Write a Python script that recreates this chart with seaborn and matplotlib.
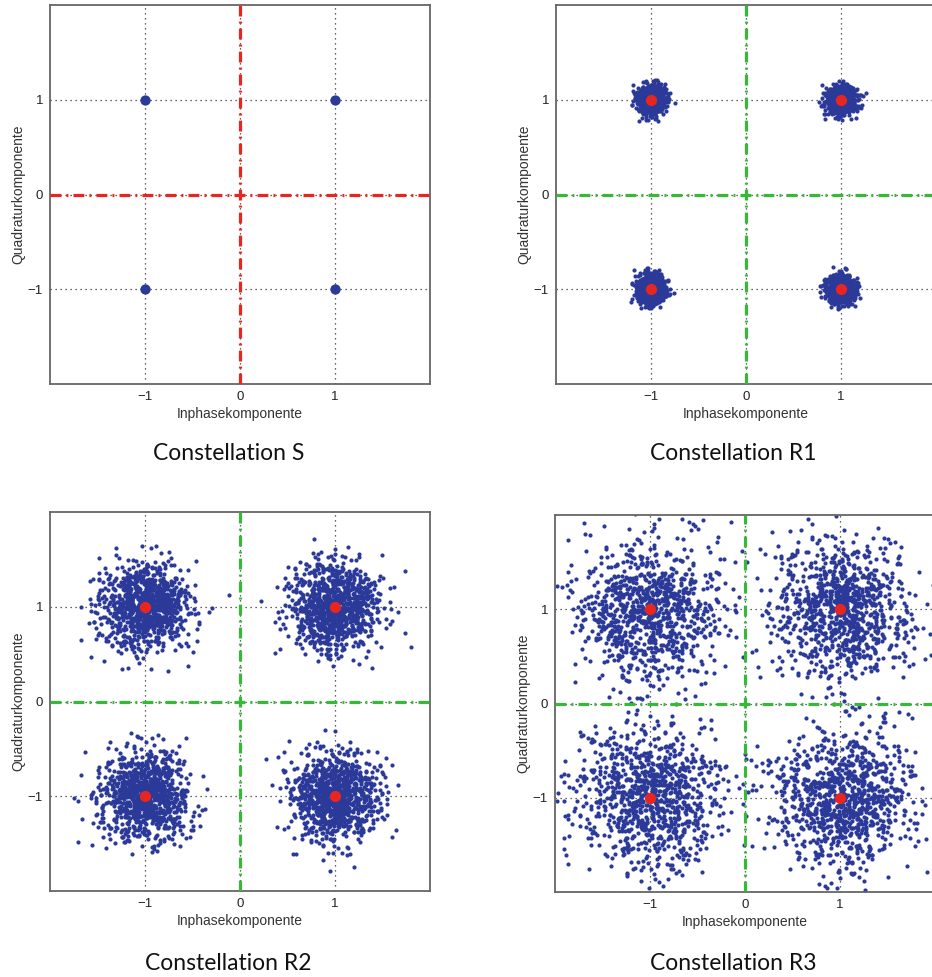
import numpy as np
import pandas as pd
import matplotlib
matplotlib.use("Agg")
import matplotlib.pyplot as plt
import seaborn as sns

# ---- data ----
panel_names = ["S", "R1", "R2", "R3"]
titles = ["Constellation S", "Constellation R1", "Constellation R2", "Constellation R3"]
sym_i = [-1, 1, -1, 1]          # ideal symbols (inphase)
sym_q = [1, 1, -1, -1]          # ideal symbols (quadrature)
noise_std = [0.0, 0.07, 0.23, 0.37]   # estimated spread of the received clouds
points_per_symbol = [0, 1000, 1000, 1000]
axis_line_colors = ["#e8261f", "#36b936", "#36b936", "#36b936"]
tick_values = [-1, 0, 1]
tick_labels = ["\u22121", "0", "1"]
xlabel = "Inphasekomponente"
ylabel = "Quadraturkomponente"

BLUE = "#2b3a98"
RED = "#e8261f"

sns.set_theme(style="white")
plt.rcParams["font.family"] = ["Liberation Sans", "DejaVu Sans"]

W, H = 932, 977
fig = plt.figure(figsize=(W / 100, H / 100), dpi=100)

# axes boxes in pixels: left, top, right, bottom
boxes = [(50, 5, 430, 384), (556, 5, 936, 384), (50, 512, 430, 891), (555, 515, 935, 892)]
title_pos = [(229, 453), (733, 453), (228, 963), (733, 963)]

rng = np.random.default_rng(11)
dashdot = (0, (3.4, 1.6, 0.6, 1.6))

for k, name in enumerate(panel_names):
    l, t, r, b = boxes[k]
    ax = fig.add_axes([l / W, 1 - b / H, (r - l) / W, (b - t) / H])
    ax.set_xlim(-2, 2)
    ax.set_ylim(-2, 2)
    ax.set_xticks(tick_values)
    ax.set_xticklabels(tick_labels)
    ax.set_yticks(tick_values)
    ax.set_yticklabels(tick_labels)
    ax.grid(True, linestyle=(0, (1, 3)), color="#333333", linewidth=0.9)
    ax.set_axisbelow(True)

    sym_df = pd.DataFrame({"I": sym_i, "Q": sym_q})
    if noise_std[k] > 0:
        n = points_per_symbol[k]
        rows = []
        for si, sq in zip(sym_i, sym_q):
            rows.append(pd.DataFrame({
                "I": si + noise_std[k] * rng.standard_normal(n),
                "Q": sq + noise_std[k] * rng.standard_normal(n),
            }))
        cloud = pd.concat(rows, ignore_index=True)
        sns.scatterplot(data=cloud, x="I", y="Q", ax=ax, color=BLUE, s=9,
                        linewidth=0, legend=False, zorder=2)

    ax.axhline(0, color=axis_line_colors[k], linewidth=2.3, linestyle=dashdot, zorder=3)
    ax.axvline(0, color=axis_line_colors[k], linewidth=2.3, linestyle=dashdot, zorder=3)

    if noise_std[k] > 0:
        sns.scatterplot(data=sym_df, x="I", y="Q", ax=ax, color=RED, s=65,
                        linewidth=0, legend=False, zorder=4)
    else:
        sns.scatterplot(data=sym_df, x="I", y="Q", ax=ax, color=BLUE, s=55,
                        linewidth=0, legend=False, zorder=4)

    ax.set_xlabel(xlabel, fontsize=10, color="#333333", labelpad=3)
    ax.set_ylabel(ylabel, fontsize=10, color="#333333", labelpad=2)
    ax.tick_params(axis="both", labelsize=9.5, labelcolor="#222222", direction="in",
                   length=3, width=0.8, color="#555555", pad=5)
    for sp in ax.spines.values():
        sp.set_visible(True)
        sp.set_color("#666666")
        sp.set_linewidth(1.3)

    tx, ty = title_pos[k]
    fig.text(tx / W, 1 - ty / H, titles[k], ha="center", va="center",
             fontsize=16.5, family=["Lato", "DejaVu Sans"], color="#111111")

fig.savefig("out.png", dpi=100)
